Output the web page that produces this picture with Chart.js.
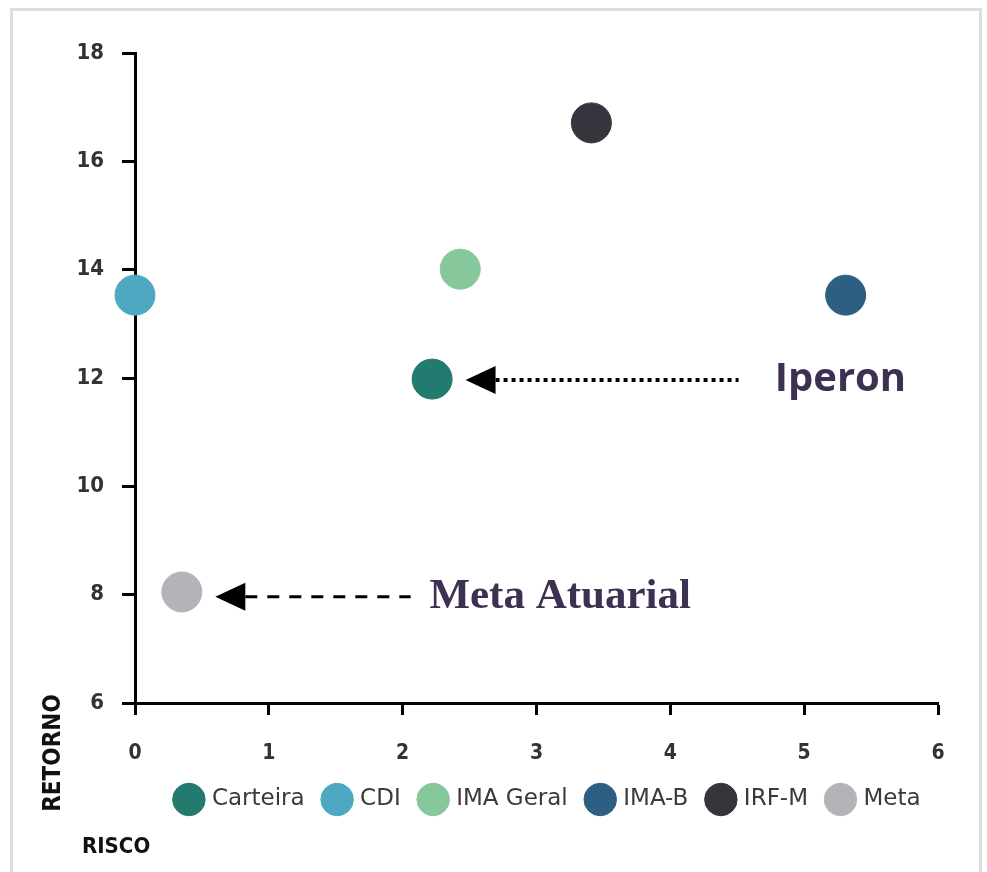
<!DOCTYPE html>
<html>
<head>
<meta charset="utf-8">
<script src="https://cdn.jsdelivr.net/npm/chart.js@4.4.1/dist/chart.umd.min.js"></script>
<style>
  html, body { margin: 0; padding: 0; background: #fff; }
  #frame { position: absolute; left: 10px; top: 8px; width: 972px; height: 900px; border: 3px solid #dcdcdc; box-sizing: border-box; }
  #wrap { position: absolute; left: 0; top: 0; width: 987px; height: 872px; }
</style>
</head>
<body>
<div id="frame"></div>
<div id="wrap"><canvas id="riscoRetorno"></canvas></div>
<script>
// dados (risco x retorno)
const nomes   = ['Carteira', 'CDI', 'IMA Geral', 'IMA-B', 'IRF-M', 'Meta'];
const risco   = [2.22, 0.0, 2.43, 5.31, 3.41, 0.35];
const retorno = [11.98, 13.53, 14.01, 13.53, 16.71, 8.05];
const cores   = ['#237a6e', '#4fa8c2', '#86c79c', '#2c5f82', '#35353d', '#b2b4b9'];
const xTicks  = [0, 1, 2, 3, 4, 5, 6];
const yTicks  = [6, 8, 10, 12, 14, 16, 18];

const cond = "'DejaVu Sans Condensed', 'DejaVu Sans', sans-serif";

// setas e rotulos (em unidades do grafico)
const notas = [
  { texto: 'Iperon', y: 12, ponta: 2.47, fim: 4.51, txt: 4.78, dash: [4, 4], lw: 4,
    font: "bold 40px 'Open Sans', 'Noto Sans', sans-serif" },
  { texto: 'Meta Atuarial', y: 8, ponta: 0.60, fim: 2.06, txt: 2.2, dash: [12, 10], lw: 3,
    font: "bold 43px 'Liberation Serif', 'DejaVu Serif', serif" }
];

const datasets = nomes.map(function(n, i) {
  return {
    label: n,
    data: [{ x: risco[i], y: retorno[i] }],
    backgroundColor: cores[i],
    borderColor: cores[i],
    pointRadius: 20,
    pointHoverRadius: 20,
    clip: false
  };
});

const notasPlugin = {
  id: 'notas',
  afterLayout: function(chart) {
    // legenda um pouco deslocada para a direita, como no original
    chart.legend.left += 80;
    chart.legend.right += 80;
  },
  afterDatasetsDraw: function(chart) {
    const ctx = chart.ctx;
    const x = chart.scales.x, y = chart.scales.y;
    ctx.save();
    notas.forEach(function(a) {
      const py = y.getPixelForValue(a.y) + 2;
      const tip = x.getPixelForValue(a.ponta);
      const base = tip + 30;
      ctx.fillStyle = '#000';
      ctx.beginPath();
      ctx.moveTo(tip, py);
      ctx.lineTo(base, py - 14);
      ctx.lineTo(base, py + 14);
      ctx.closePath();
      ctx.fill();
      ctx.strokeStyle = '#000';
      ctx.lineWidth = a.lw;
      ctx.setLineDash(a.dash);
      ctx.beginPath();
      ctx.moveTo(base, py);
      ctx.lineTo(x.getPixelForValue(a.fim), py);
      ctx.stroke();
      ctx.setLineDash([]);
      ctx.fillStyle = '#3d3152';
      ctx.font = a.font;
      ctx.textBaseline = 'middle';
      ctx.textAlign = 'left';
      ctx.fillText(a.texto, x.getPixelForValue(a.txt), py);
    });
    // titulos dos eixos
    ctx.fillStyle = '#111';
    ctx.font = "bold 24px " + cond;
    ctx.translate(54, 753);
    ctx.rotate(-Math.PI / 2);
    ctx.textAlign = 'center';
    ctx.textBaseline = 'middle';
    ctx.fillText('RETORNO', 0, 0);
    ctx.restore();
    ctx.save();
    ctx.fillStyle = '#111';
    ctx.font = "bold 22px " + cond;
    ctx.textBaseline = 'middle';
    ctx.fillText('RISCO', 82, 847);
    ctx.restore();
  }
};

const ctx = document.getElementById('riscoRetorno').getContext('2d');
const grafico = new Chart(ctx, {
  type: 'scatter',
  data: { datasets: datasets },
  options: {
    responsive: true,
    maintainAspectRatio: false,
    animation: false,
    layout: { padding: { top: 53, right: 49, bottom: 51, left: 0 } },
    plugins: {
      legend: {
        position: 'bottom',
        labels: {
          usePointStyle: true,
          pointStyle: 'circle',
          boxWidth: 25,
          boxHeight: 25,
          padding: 21,
          color: '#3a3a3a',
          font: { size: 23, family: "'DejaVu Sans', sans-serif" }
        }
      },
      tooltip: { enabled: false }
    },
    scales: {
      x: {
        type: 'linear',
        min: 0, max: 6,
        afterBuildTicks: function(s) { s.ticks = xTicks.map(function(v) { return { value: v }; }); },
        afterFit: function(s) { s.height = 64; },
        border: { display: true, color: '#000', width: 3 },
        grid: { drawOnChartArea: false, drawTicks: true, tickLength: 12, color: '#000', tickColor: '#000', tickWidth: 3 },
        ticks: { color: '#333', padding: 26, font: { size: 21, weight: 'bold', family: cond } }
      },
      y: {
        type: 'linear',
        min: 6, max: 18,
        afterBuildTicks: function(s) { s.ticks = yTicks.map(function(v) { return { value: v }; }); },
        afterFit: function(s) { s.width = 135; },
        border: { display: true, color: '#000', width: 3 },
        grid: { drawOnChartArea: false, drawTicks: true, tickLength: 13, color: '#000', tickColor: '#000', tickWidth: 3 },
        ticks: { color: '#333', padding: 18, font: { size: 22, weight: 'bold', family: cond } }
      }
    }
  },
  plugins: [notasPlugin]
});
</script>
</body>
</html>
